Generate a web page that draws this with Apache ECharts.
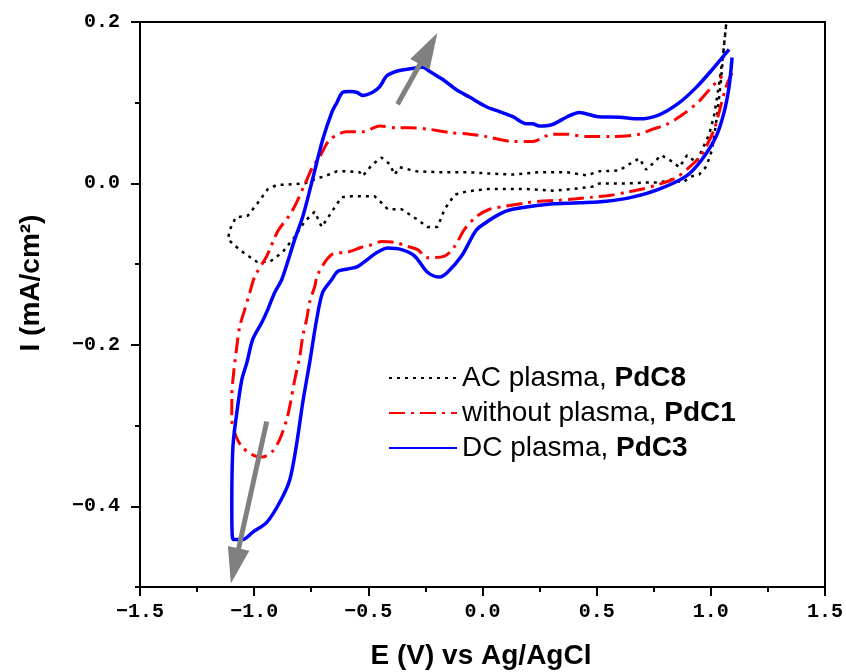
<!DOCTYPE html>
<html>
<head>
<meta charset="utf-8">
<script src="https://cdn.jsdelivr.net/npm/echarts@6/dist/echarts.min.js"></script>
<style>
html, body { margin: 0; padding: 0; background: #fff; }
#chart { width: 846px; height: 672px; }
</style>
</head>
<body>
<div id="chart"></div>
<script>
const seriesNames = ['AC plasma, PdC8', 'without plasma, PdC1', 'DC plasma, PdC3'];

// [E (V), I (mA/cm2)], cathodic branch first
const acPlasma = [
    [1.067, 0.197], [1.058, 0.172], [1.045, 0.129], [1.028, 0.085], [1.006, 0.042], [0.980, 0.021],
    [0.949, 0.011], [0.918, 0.009], [0.875, 0.001], [0.831, 0.005], [0.774, 0.001], [0.717, 0.001],
    [0.630, 0.000], [0.512, 0.000], [0.481, -0.004], [0.394, -0.007], [0.306, -0.009], [0.192, -0.007],
    [0.105, -0.007], [0.017, -0.007], [-0.070, -0.010], [-0.122, -0.014], [-0.166, -0.032], [-0.197, -0.054],
    [-0.241, -0.054], [-0.284, -0.045], [-0.354, -0.032], [-0.415, -0.032], [-0.442, -0.024], [-0.472, -0.016],
    [-0.529, -0.016], [-0.573, -0.016], [-0.617, -0.017], [-0.660, -0.035], [-0.704, -0.054], [-0.735, -0.035],
    [-0.778, -0.047], [-0.822, -0.066], [-0.875, -0.085], [-0.931, -0.097], [-0.988, -0.097], [-1.041, -0.087],
    [-1.085, -0.077], [-1.115, -0.069],
    [-1.106, -0.057], [-1.080, -0.042], [-1.028, -0.040], [-0.984, -0.024], [-0.940, -0.007], [-0.901, -0.002],
    [-0.835, -0.001], [-0.778, 0.000], [-0.735, 0.005], [-0.682, 0.010], [-0.638, 0.015], [-0.595, 0.015],
    [-0.538, 0.014], [-0.525, 0.009], [-0.481, 0.024], [-0.442, 0.032], [-0.407, 0.024], [-0.385, 0.011],
    [-0.363, 0.020], [-0.289, 0.015], [-0.188, 0.014], [-0.070, 0.014], [0.044, 0.012], [0.131, 0.011],
    [0.249, 0.014], [0.367, 0.014], [0.455, 0.010], [0.512, 0.015], [0.599, 0.016], [0.643, 0.024],
    [0.687, 0.031], [0.717, 0.017], [0.743, 0.024], [0.783, 0.035], [0.831, 0.027], [0.862, 0.020],
    [0.896, 0.035], [0.936, 0.026], [0.962, 0.042], [0.993, 0.061], [1.015, 0.085], [1.036, 0.123],
    [1.054, 0.160], [1.067, 0.197]
];

const withoutPlasma = [
    [1.093, 0.137], [1.067, 0.120], [1.036, 0.088], [1.015, 0.067], [0.980, 0.046], [0.949, 0.032],
    [0.905, 0.020], [0.848, 0.007], [0.774, -0.001], [0.700, -0.007], [0.630, -0.011], [0.555, -0.015],
    [0.481, -0.017], [0.411, -0.019], [0.324, -0.021], [0.249, -0.022], [0.192, -0.024], [0.105, -0.028],
    [0.031, -0.032], [-0.026, -0.041], [-0.079, -0.057], [-0.122, -0.078], [-0.166, -0.090], [-0.241, -0.092],
    [-0.284, -0.082], [-0.328, -0.078], [-0.385, -0.073], [-0.442, -0.072], [-0.485, -0.076], [-0.529, -0.079],
    [-0.590, -0.085], [-0.660, -0.088], [-0.722, -0.113], [-0.735, -0.128], [-0.757, -0.147], [-0.770, -0.168],
    [-0.787, -0.189], [-0.800, -0.214], [-0.822, -0.243], [-0.844, -0.276], [-0.857, -0.292], [-0.888, -0.317],
    [-0.923, -0.333], [-0.966, -0.339], [-1.010, -0.336], [-1.054, -0.326], [-1.080, -0.313], [-1.098, -0.292],
    [-1.098, -0.264], [-1.093, -0.243], [-1.076, -0.202], [-1.063, -0.177], [-1.041, -0.156], [-1.019, -0.135],
    [-0.997, -0.115], [-0.945, -0.090], [-0.896, -0.059], [-0.835, -0.035], [-0.778, -0.001], [-0.743, 0.021],
    [-0.713, 0.033], [-0.669, 0.054], [-0.595, 0.064], [-0.525, 0.064], [-0.450, 0.071], [-0.376, 0.069],
    [-0.319, 0.069], [-0.232, 0.067], [-0.144, 0.063], [-0.057, 0.061], [0.017, 0.058], [0.131, 0.052],
    [0.219, 0.052], [0.306, 0.061], [0.367, 0.061], [0.455, 0.058], [0.569, 0.058], [0.687, 0.061],
    [0.743, 0.067], [0.805, 0.073], [0.875, 0.085], [0.949, 0.102], [0.993, 0.116], [1.050, 0.133]
];

const dcPlasma = [
    [1.093, 0.156], [1.080, 0.120], [1.058, 0.088], [1.023, 0.058], [0.962, 0.030], [0.892, 0.009],
    [0.774, -0.007], [0.656, -0.017], [0.542, -0.022], [0.424, -0.024], [0.280, -0.026], [0.131, -0.032],
    [0.074, -0.038], [-0.013, -0.054], [-0.035, -0.061], [-0.092, -0.090], [-0.153, -0.110], [-0.188, -0.116],
    [-0.241, -0.110], [-0.297, -0.090], [-0.354, -0.082], [-0.415, -0.080], [-0.459, -0.085], [-0.503, -0.094],
    [-0.547, -0.103], [-0.590, -0.106], [-0.634, -0.109], [-0.660, -0.119], [-0.700, -0.135], [-0.726, -0.168],
    [-0.757, -0.222], [-0.787, -0.271], [-0.813, -0.321], [-0.844, -0.367], [-0.888, -0.395], [-0.945, -0.420],
    [-1.006, -0.432], [-1.050, -0.441], [-1.093, -0.441],
    [-1.098, -0.400], [-1.093, -0.326], [-1.076, -0.284], [-1.054, -0.243], [-1.032, -0.222], [-1.006, -0.193],
    [-0.966, -0.172], [-0.940, -0.156], [-0.910, -0.135], [-0.879, -0.119], [-0.822, -0.069], [-0.787, -0.041],
    [-0.748, 0.001], [-0.700, 0.054], [-0.660, 0.088], [-0.638, 0.100], [-0.612, 0.113], [-0.582, 0.114],
    [-0.551, 0.113], [-0.525, 0.109], [-0.481, 0.113], [-0.450, 0.120], [-0.420, 0.133], [-0.376, 0.139],
    [-0.319, 0.142], [-0.262, 0.144], [-0.232, 0.139], [-0.175, 0.129], [-0.114, 0.116], [-0.057, 0.107],
    [0.017, 0.095], [0.074, 0.089], [0.131, 0.083], [0.192, 0.074], [0.219, 0.074], [0.249, 0.071],
    [0.306, 0.073], [0.367, 0.082], [0.424, 0.088], [0.499, 0.083], [0.599, 0.082], [0.687, 0.080],
    [0.774, 0.085], [0.862, 0.100], [0.936, 0.119], [1.006, 0.141], [1.080, 0.166]
];

// scan direction arrows: [start, head]
const arrowUp = [[-0.372, 0.098], [-0.236, 0.167]];
const arrowDown = [[-0.945, -0.295], [-1.085, -0.474]];

const yMajorTicks = [-0.4, -0.2, 0, 0.2];

const tickFont = {
    fontFamily: 'Liberation Mono',
    fontWeight: 'bold',
    fontSize: 20,
    color: '#000'
};
const fmt = v => v.toFixed(1).replace('-', '\u2212');

const chart = echarts.init(document.getElementById('chart'));

const option = {
    animation: false,
    backgroundColor: '#fff',
    grid: {
        left: 140,
        right: 20,
        top: 22,
        bottom: 85,
        show: true,
        borderColor: '#000',
        borderWidth: 2
    },
    legend: {
        data: seriesNames,
        orient: 'vertical',
        left: 383,
        top: 358,
        itemWidth: 68,
        itemHeight: 14,
        itemGap: 5,
        itemStyle: { opacity: 0 },
        formatter(name) {
            const parts = name.split(', ');
            return `{n|${parts[0]}, }{b|${parts[1]}}`;
        },
        textStyle: {
            lineHeight: 30,
            rich: {
                n: { fontFamily: 'Liberation Sans', fontSize: 28, color: '#000' },
                b: { fontFamily: 'Liberation Sans', fontSize: 28, fontWeight: 'bold', color: '#000' }
            }
        }
    },
    xAxis: {
        type: 'value',
        min: -1.5,
        max: 1.5,
        interval: 0.5,
        axisLine: { onZero: false, lineStyle: { color: '#000', width: 2 } },
        axisTick: { length: 9, lineStyle: { color: '#000', width: 2 } },
        minorTick: { show: true, splitNumber: 2, length: 5, lineStyle: { color: '#000', width: 2 } },
        splitLine: { show: false },
        axisLabel: Object.assign({ margin: 15, formatter: fmt }, tickFont)
    },
    yAxis: [{
        type: 'value',
        min: -0.5,
        max: 0.2,
        axisLine: { show: true, onZero: false, lineStyle: { color: '#000', width: 2 } },
        axisTick: { show: true, length: 9, customValues: yMajorTicks, lineStyle: { color: '#000', width: 2 } },
        splitLine: { show: false },
        axisLabel: Object.assign({ margin: 20, customValues: yMajorTicks, formatter: fmt }, tickFont)
    }, {
        // minor ticks every 0.1
        type: 'value',
        position: 'left',
        min: -0.5,
        max: 0.2,
        interval: 0.1,
        axisLine: { show: false, onZero: false },
        axisTick: { show: true, length: 5, lineStyle: { color: '#000', width: 2 } },
        axisLabel: { show: false },
        splitLine: { show: false }
    }],
    graphic: [{
        type: 'text',
        x: 31,
        y: 283,
        rotation: Math.PI / 2,
        style: {
            text: 'I (mA/cm\u00b2)',
            fontFamily: 'Liberation Sans',
            fontWeight: 'bold',
            fontSize: 28,
            fill: '#000',
            align: 'center',
            verticalAlign: 'middle'
        }
    }, {
        type: 'text',
        x: 481,
        y: 656,
        style: {
            text: 'E (V) vs Ag/AgCl',
            fontFamily: 'Liberation Sans',
            fontWeight: 'bold',
            fontSize: 28,
            fill: '#000',
            align: 'center',
            verticalAlign: 'middle'
        }
    }],
    series: [
        {
            name: seriesNames[0],
            type: 'line',
            data: acPlasma,
            showSymbol: false,
            symbol: 'none',
            lineStyle: { color: '#000', width: 2.5, type: [3, 5] },
            itemStyle: { color: '#000' }
        },
        {
            name: seriesNames[1],
            type: 'line',
            data: withoutPlasma,
            showSymbol: false,
            symbol: 'none',
            smooth: 0.3,
            lineStyle: { color: '#ff0000', width: 3, type: [16, 6, 3, 6] },
            itemStyle: { color: '#ff0000' }
        },
        {
            name: seriesNames[2],
            type: 'line',
            data: dcPlasma,
            showSymbol: false,
            symbol: 'none',
            smooth: 0.3,
            lineStyle: { color: '#0000ff', width: 3.5 },
            itemStyle: { color: '#0000ff' }
        },
        {
            type: 'lines',
            coordinateSystem: 'cartesian2d',
            symbol: ['none', 'triangle'],
            symbolSize: [0, [22, 36]],
            lineStyle: { color: '#808080', width: 5, opacity: 1, curveness: 0 },
            itemStyle: { color: '#808080' },
            z: 5,
            data: [{ coords: arrowUp }, { coords: arrowDown }]
        }
    ]
};

chart.setOption(option);
</script>
</body>
</html>
